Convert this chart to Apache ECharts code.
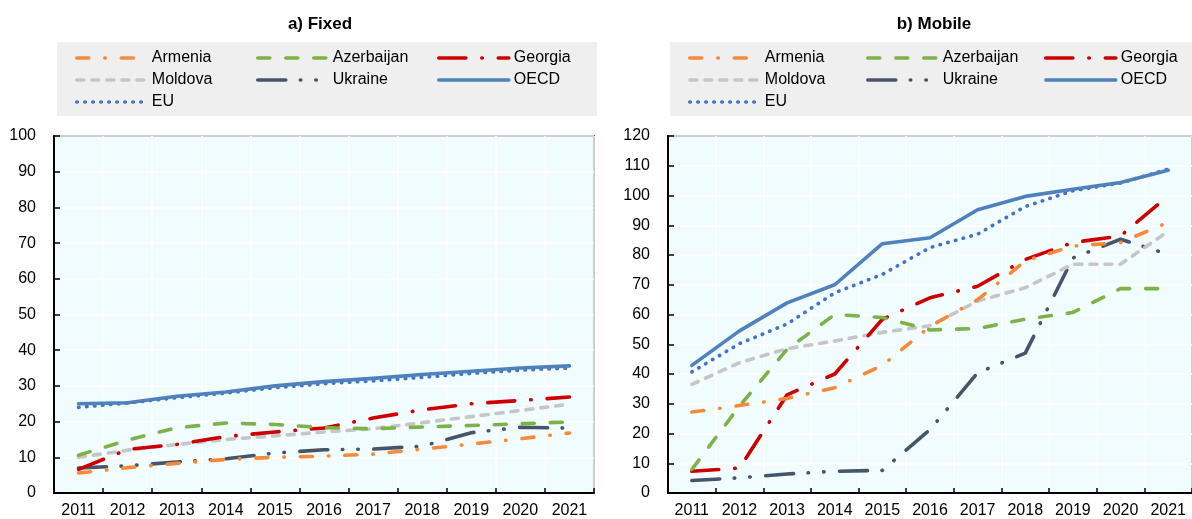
<!DOCTYPE html>
<html><head><meta charset="utf-8">
<script src="https://cdn.jsdelivr.net/npm/echarts@6/dist/echarts.min.js"></script>
<style>html,body{margin:0;padding:0;background:#fff}#c{width:1192px;height:519px}</style>
</head><body><div id="c"></div>
<script>
const years = ['2011','2012','2013','2014','2015','2016','2017','2018','2019','2020','2021'];
const seriesNames = ['Armenia','Azerbaijan','Georgia','Moldova','Ukraine','OECD','EU'];
// a) Fixed
const fixedArmenia    = [5.6, 7.1, 8.3, 9.4, 10.0, 10.3, 10.9, 12.3, 13.7, 15.2, 16.8];
const fixedAzerbaijan = [10.6, 14.8, 18.3, 19.6, 19.2, 18.3, 18.0, 18.5, 18.9, 19.4, 19.9];
const fixedGeorgia    = [6.6, 12.2, 13.6, 15.8, 17.1, 18.2, 21.0, 23.3, 25.0, 25.9, 26.9];
const fixedMoldova    = [10.0, 12.0, 13.6, 15.0, 16.0, 17.1, 18.0, 19.7, 21.4, 23.1, 24.9];
const fixedUkraine    = [7.0, 7.6, 8.7, 9.6, 11.2, 12.1, 12.3, 13.1, 16.9, 18.4, 18.2];
const fixedOECD       = [25.0, 25.3, 27.1, 28.3, 30.0, 31.2, 32.1, 33.2, 34.1, 35.0, 35.6];
const fixedEU         = [24.0, 25.2, 26.7, 28.0, 29.5, 30.6, 31.4, 32.4, 33.5, 34.4, 35.0];
// b) Mobile
const mobileArmenia    = [27.2, 29.4, 31.8, 35.4, 42.9, 56.0, 65.0, 78.0, 83.0, 84.2, 91.0];
const mobileAzerbaijan = [7.9, 29.2, 48.3, 60.0, 59.0, 54.8, 55.3, 58.4, 60.7, 68.7, 68.7];
const mobileGeorgia    = [7.3, 8.4, 33.0, 40.0, 58.4, 65.6, 69.5, 78.5, 84.2, 86.4, 99.9];
const mobileMoldova    = [36.5, 43.8, 48.5, 51.1, 54.0, 56.2, 64.5, 69.0, 76.9, 76.9, 88.0];
const mobileUkraine    = [4.2, 5.1, 6.4, 7.3, 7.6, 21.3, 40.4, 47.0, 79.0, 85.3, 80.2];
const mobileOECD       = [42.9, 54.5, 63.9, 70.0, 83.8, 85.8, 95.2, 99.7, 102.1, 104.4, 108.5];
const mobileEU         = [40.7, 50.2, 56.8, 67.3, 73.5, 82.5, 87.0, 96.3, 101.6, 104.2, 108.9];
const fixedTicks = {min: 0, max: 100, interval: 10};
const mobileTicks = {min: 0, max: 120, interval: 10};

const FONT = 'Liberation Sans, Arial, sans-serif';
const styles = {
  Armenia:    {color: '#F58B3A', type: [12, 16, 0.5, 16]},
  Azerbaijan: {color: '#7BB348', type: [12, 16]},
  Georgia:    {color: '#CC0000', type: [27, 16, 0.5, 16]},
  Moldova:    {color: '#C6C6C6', type: [7, 8]},
  Ukraine:    {color: '#46556A', type: [28, 14.5, 0.5, 15, 0.5, 15.5]},
  OECD:       {color: '#4F81BD', type: 'solid'},
  EU:         {color: '#4472C4', type: [0.5, 7.5]}
};
const LW = 3.6;
const fixedData = [fixedArmenia, fixedAzerbaijan, fixedGeorgia, fixedMoldova, fixedUkraine, fixedOECD, fixedEU];
const mobileData = [mobileArmenia, mobileAzerbaijan, mobileGeorgia, mobileMoldova, mobileUkraine, mobileOECD, mobileEU];

function mkSeries(data, idx) {
  return seriesNames.map((n, i) => ({
    name: n, type: 'line', xAxisIndex: idx, yAxisIndex: idx,
    data: data[i], symbol: 'none', showSymbol: false, animation: false,
    z: 10 - i,
    lineStyle: {color: styles[n].color, width: LW, type: styles[n].type, cap: 'round', join: 'round'},
    itemStyle: {color: styles[n].color}
  }));
}

const grids = [
  {left: 54, top: 136, width: 540, height: 357},
  {left: 668, top: 136, width: 539, height: 357}
];
function xAx(gi) {
  return {
    type: 'category', gridIndex: gi, data: years, boundaryGap: true,
    axisLine: {show: true, lineStyle: {color: '#000', width: 2}},
    axisTick: {show: true, inside: true, length: 5, lineStyle: {color: '#000', width: 1.5}},
    axisLabel: {color: '#000', fontSize: 16, fontFamily: FONT, margin: 10, interval: 0},
    splitLine: {show: true, interval: 0, lineStyle: {color: '#FFFFFF', width: 1.5}}
  };
}
function yAx(gi, t) {
  return {
    type: 'value', gridIndex: gi, min: t.min, max: t.max, interval: t.interval,
    axisLine: {show: true, lineStyle: {color: '#000', width: 2}},
    axisTick: {show: true, inside: true, length: 6, lineStyle: {color: '#000', width: 1.5}},
    axisLabel: {color: '#000', fontSize: 16, fontFamily: FONT, margin: 18},
    splitLine: {show: true, lineStyle: {color: '#FFFFFF', width: 1.5}}
  };
}
function legendCol(left, names) {
  return {
    orient: 'vertical', left: left, top: 50, padding: 0, itemGap: 6,
    itemWidth: 70, itemHeight: 16, data: names, selectedMode: false,
    itemStyle: {opacity: 0},
    lineStyle: {width: LW, cap: 'round'},
    textStyle: {color: '#000', fontSize: 16, fontFamily: FONT, lineHeight: 16, padding: [0,0,0,0]}
  };
}
const legends = [
  legendCol(75, ['Armenia','Moldova','EU']),
  legendCol(256, ['Azerbaijan','Ukraine']),
  legendCol(437, ['Georgia','OECD']),
  legendCol(688, ['Armenia','Moldova','EU']),
  legendCol(866, ['Azerbaijan','Ukraine']),
  legendCol(1044, ['Georgia','OECD'])
];

const chart = echarts.init(document.getElementById('c'), null, {renderer: 'canvas'});
chart.setOption({
  animation: false,
  backgroundColor: '#fff',
  title: [
    {text: 'a) Fixed', left: 315, top: 11, textAlign: 'center',
     textStyle: {fontSize: 17, fontWeight: 'bold', fontFamily: FONT, color: '#000'}},
    {text: 'b) Mobile', left: 929, top: 11, textAlign: 'center',
     textStyle: {fontSize: 17, fontWeight: 'bold', fontFamily: FONT, color: '#000'}}
  ],
  graphic: [
    {type: 'rect', left: 57, top: 42, z: -10, shape: {width: 540, height: 74}, style: {fill: '#EFEFEF'}},
    {type: 'rect', left: 670, top: 42, z: -10, shape: {width: 530, height: 74}, style: {fill: '#EFEFEF'}}
  ],
  legend: legends,
  grid: grids.map(g => Object.assign({show: true, backgroundColor: '#F0FCFE', borderColor: '#000', borderWidth: 1.5}, g)),
  xAxis: [xAx(0), xAx(1)],
  yAxis: [yAx(0, fixedTicks), yAx(1, mobileTicks)],
  series: mkSeries(fixedData, 0).concat(mkSeries(mobileData, 1))
});
</script></body></html>
